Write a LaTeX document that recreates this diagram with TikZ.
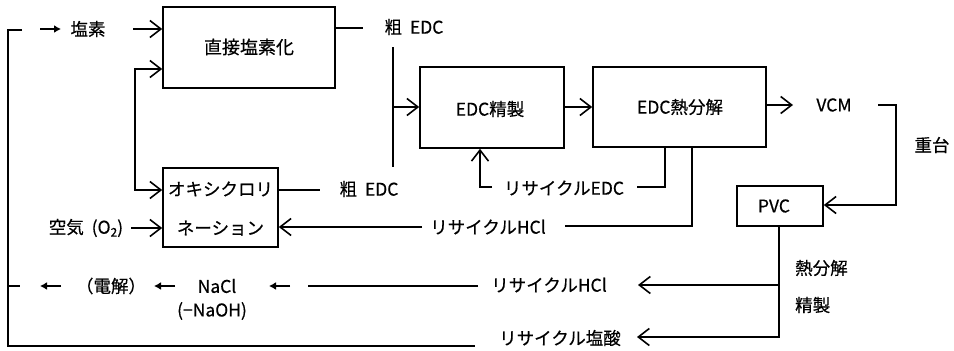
\documentclass[tikz,border=0pt]{standalone}
\usepackage{fontspec}
\setmainfont{Noto Sans CJK JP}
\newfontfamily\lblfont{Noto Sans CJK JP}[FakeBold=0.5]
\usetikzlibrary{arrows.meta}
\tikzset{
  ln/.style={line width=1.6pt},
  arr/.style={ln, -{Straight Barb[length=11pt,width=17pt,line width=1.6pt]}},
  box/.style={draw, line width=1.6pt, inner sep=0pt},
  lbl/.style={inner sep=0pt, font=\lblfont\fontsize{17.5}{20}\selectfont},
  sarr/.style={line width=1.8pt, -{Latex[length=7pt,width=8pt]}},
}
\begin{document}
\begin{tikzpicture}[x=1pt,y=-1pt]
\useasboundingbox (0,0) rectangle (954,351);
% boxes
\node[box, minimum width=172pt, minimum height=81pt] (direct) at (249,47.5) {};
\node[lbl, font=\lblfont\fontsize{18}{20}\selectfont] (directT) at (249,47) {直接塩素化};
\node[box, minimum width=115pt, minimum height=79pt] (oxy) at (220.5,207.5) {};
\node[lbl] (oxyA) at (220.5,189) {オキシクロリ};
\node[lbl] (oxyB) at (220.5,228) {ネーション};
\node[box, minimum width=144pt, minimum height=81pt] (refine) at (492,107.5) {};
\node[lbl] (refineT) at (490,109) {EDC精製};
\node[box, minimum width=173pt, minimum height=80pt] (crack) at (679.5,107) {};
\node[lbl] (crackT) at (680,107) {EDC熱分解};
\node[box, minimum width=86pt, minimum height=40pt] (pvc) at (780,206) {};
\node[lbl] (pvcT) at (774,206) {PVC};
% labels
\node[lbl] (cl) at (88,29) {塩素};
\node[lbl] (crude1) at (414,27) {粗\ \ EDC};
\node[lbl] (crude2) at (369,189) {粗\ \ EDC};
\node[lbl] (air) at (86,228) {空気\ \ (O\raisebox{-3pt}{\lblfont\fontsize{12}{12}\selectfont 2})};
\node[lbl] (vcm) at (834,105) {VCM};
\node[lbl] (poly) at (932,145) {重台};
\node[lbl] (recEDC) at (564,188) {リサイクルEDC};
\node[lbl] (recHCl1) at (488,227) {リサイクルHCl};
\node[lbl, anchor=west] (netsu) at (795,268) {熱分解};
\node[lbl, anchor=west] (seisei) at (795,305) {精製};
\node[lbl] (recHCl2) at (549,285) {リサイクルHCl};
\node[lbl] (recAcid) at (560,338) {リサイクル塩酸};
\node[lbl] (nacl) at (217,286) {NaCl};
\node[lbl] (elec) at (111,286) {（電解）};
\node[lbl] (naoh) at (212,311) {(−NaOH)};
% coordinates
\coordinate (tl1) at (22,30);
\coordinate (tl0) at (8,30);
\coordinate (bl0) at (8,346);
\coordinate (bl1) at (475,346);
\coordinate (ml0) at (8,286);
\coordinate (ml1) at (20,286);
\coordinate (clA) at (133,29);
\coordinate (j1) at (135,69);
\coordinate (j2) at (135,190);
\coordinate (airA) at (131,228);
\coordinate (cr1) at (363,28);
\coordinate (cr2) at (320,190);
\coordinate (v1) at (393,47);
\coordinate (v2) at (393,167);
\coordinate (v3) at (393,107);
\coordinate (vcmA) at (793,105);
\coordinate (vcmB) at (878,105);
\coordinate (vcmC) at (896,105);
\coordinate (vcmD) at (896,205);
\coordinate (re1) at (665,187);
\coordinate (re2) at (637,187);
\coordinate (re3) at (492,187);
\coordinate (re4) at (480,187);
\coordinate (rh1) at (692,226);
\coordinate (rh2) at (565,226);
\coordinate (rh3) at (422,227);
\coordinate (pv1) at (779,337);
\coordinate (pv2) at (637,337);
\coordinate (pv3) at (779,285);
\coordinate (pv4) at (638,285);
\coordinate (hl1) at (478,286);
\coordinate (hl2) at (308,286);
\coordinate (sa1) at (40,29);
\coordinate (sa2) at (61,29);
\coordinate (sb1) at (61,286);
\coordinate (sb2) at (40,286);
\coordinate (sc1) at (175,286);
\coordinate (sc2) at (154,286);
\coordinate (sd1) at (290,286);
\coordinate (sd2) at (269,286);
% connectors
\draw[ln] (tl1) -- (tl0) -- (bl0) -- (bl1);
\draw[ln] (ml0) -- (ml1);
\draw[sarr] (sa1) -- (sa2);
\draw[sarr] (sb1) -- (sb2);
\draw[sarr] (sc1) -- (sc2);
\draw[sarr] (sd1) -- (sd2);
\draw[arr] (clA) -- (clA -| direct.west);
\draw[arr] (j2) -- (j1) -- (j1 -| direct.west);
\draw[arr] (j1) -- (j2) -- (j2 -| oxy.west);
\draw[arr] (airA) -- (airA -| oxy.west);
\draw[ln] (cr1 -| direct.east) -- (cr1);
\draw[ln] (cr2 -| oxy.east) -- (cr2);
\draw[ln] (v1) -- (v2);
\draw[arr] (v3) -- (v3 -| refine.west);
\draw[arr] (refine.east |- v3) -- (crack.west |- v3);
\draw[arr] (crack.east |- vcmA) -- (vcmA);
\draw[arr] (vcmB) -- (vcmC) -- (vcmD) -- (vcmD -| pvc.east);
\draw[ln] (re1 |- crack.south) -- (re1) -- (re2);
\draw[arr] (re3) -- (re4) -- (re4 |- refine.south);
\draw[ln] (rh1 |- crack.south) -- (rh1) -- (rh2);
\draw[arr] (rh3) -- (rh3 -| oxy.east);
\draw[arr] (pv1 |- pvc.south) -- (pv1) -- (pv2);
\draw[arr] (pv3) -- (pv4);
\draw[ln] (hl1) -- (hl2);
\end{tikzpicture}
\end{document}
